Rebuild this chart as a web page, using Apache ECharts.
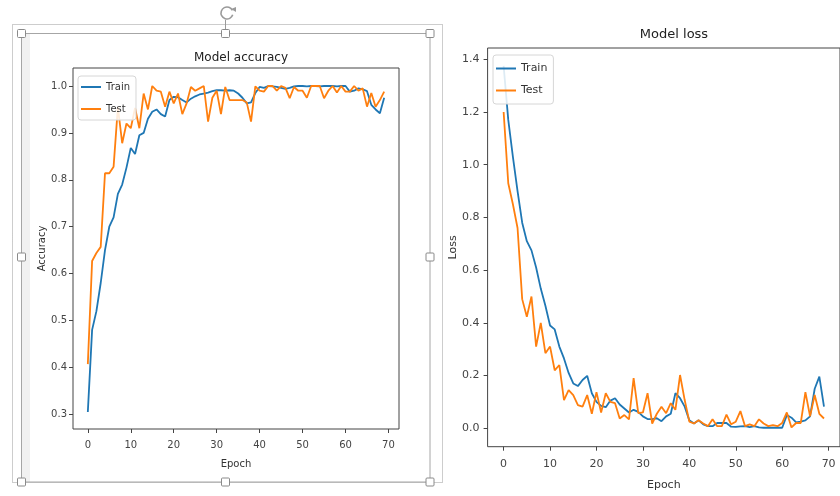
<!DOCTYPE html>
<html>
<head>
<meta charset="utf-8">
<title>Model accuracy / Model loss</title>
<script src="https://cdn.jsdelivr.net/npm/echarts@6/dist/echarts.min.js"></script>
<style>
  html, body { margin: 0; padding: 0; background: #fff; }
  #chart { width: 840px; height: 496px; }
</style>
</head>
<body>
<div id="chart"></div>
<script>
// epochs 0..69
const epochs = Array.from({ length: 70 }, (_, i) => i);

// accuracy
const trainAcc = [
  0.305, 0.48, 0.52, 0.58, 0.65, 0.70, 0.72, 0.77, 0.79, 0.826,
  0.868, 0.855, 0.895, 0.90, 0.93, 0.945, 0.95, 0.94, 0.935, 0.97,
  0.977, 0.976, 0.97, 0.965, 0.973, 0.978, 0.982, 0.984, 0.986, 0.989,
  0.991, 0.991, 0.99, 0.991, 0.99, 0.984, 0.975, 0.963, 0.965, 0.985,
  0.998, 0.996, 1.0, 0.999, 0.998, 0.996, 0.994, 0.996, 0.999, 1.0,
  1.0, 0.999, 1.0, 1.0, 0.999, 1.0, 1.0, 1.0, 0.999, 1.0,
  1.0, 0.988, 0.99, 0.995, 0.993, 0.989, 0.96, 0.95, 0.942, 0.975
];
const testAcc = [
  0.407, 0.627, 0.644, 0.657, 0.814, 0.814, 0.828, 0.955, 0.878, 0.92,
  0.91, 0.953, 0.91, 0.984, 0.95, 1.0, 0.99, 0.988, 0.956, 0.988,
  0.963, 0.984, 0.94, 0.963, 0.998, 0.99, 0.995, 1.0, 0.924, 0.975,
  0.99, 0.94, 0.998, 0.97, 0.97, 0.97, 0.97, 0.965, 0.924, 0.999,
  0.99, 0.988, 1.0, 1.0, 0.99, 1.0, 0.996, 0.974, 0.998, 0.99,
  0.99, 0.975, 1.0, 1.0, 1.0, 0.974, 0.99, 1.0, 0.986, 1.0,
  0.988, 0.988, 1.0, 0.99, 0.995, 0.956, 0.985, 0.956, 0.97, 0.988
];

// loss
const trainLoss = [
  1.375, 1.17, 1.03, 0.9, 0.78, 0.71, 0.675, 0.61, 0.53, 0.465,
  0.39, 0.375, 0.31, 0.265, 0.21, 0.17, 0.16, 0.183, 0.199, 0.133,
  0.1, 0.085, 0.08, 0.105, 0.114, 0.09, 0.075, 0.06, 0.07, 0.062,
  0.045, 0.035, 0.035, 0.038, 0.027, 0.045, 0.055, 0.133, 0.114, 0.082,
  0.03, 0.018, 0.03, 0.015, 0.008, 0.008, 0.02, 0.02, 0.02, 0.006,
  0.005, 0.007, 0.008, 0.004, 0.008, 0.003, 0.002, 0.002, 0.002, 0.002,
  0.002, 0.05, 0.04, 0.022, 0.025, 0.03, 0.045, 0.15, 0.196, 0.082
];
const testLoss = [
  1.2, 0.93, 0.85, 0.76, 0.49, 0.423, 0.5, 0.31, 0.4, 0.285,
  0.31, 0.22, 0.24, 0.107, 0.145, 0.126, 0.088, 0.082, 0.126, 0.055,
  0.137, 0.06, 0.133, 0.1, 0.095, 0.037, 0.05, 0.034, 0.19, 0.057,
  0.06, 0.133, 0.018, 0.055, 0.082, 0.057, 0.095, 0.07, 0.202, 0.107,
  0.025, 0.018, 0.03, 0.018, 0.008, 0.034, 0.008, 0.008, 0.052, 0.015,
  0.025, 0.065, 0.008, 0.015, 0.008, 0.034, 0.018, 0.008, 0.012, 0.008,
  0.02, 0.06, 0.003, 0.02, 0.02, 0.137, 0.045, 0.126, 0.055, 0.037
];

const xTicks = [0, 10, 20, 30, 40, 50, 60, 70];
const accTicks = [0.3, 0.4, 0.5, 0.6, 0.7, 0.8, 0.9, 1.0];
const lossTicks = [0.0, 0.2, 0.4, 0.6, 0.8, 1.0, 1.2, 1.4];

const BLUE = '#1f77b4';
const ORANGE = '#ff7f0e';
const FONT = 'DejaVu Sans';

const pairs = (ys) => epochs.map((e, i) => [e, ys[i]]);

function xAxisCfg(gridIndex, fs, margin, gap) {
  return {
    type: 'value', gridIndex, min: -3.45, max: 72.45,
    name: 'Epoch', nameLocation: 'middle', nameGap: gap,
    nameTextStyle: { fontFamily: FONT, fontSize: fs, color: '#333' },
    axisLine: { show: false, onZero: false },
    axisTick: { show: true, length: 4, customValues: xTicks, lineStyle: { color: '#444' } },
    axisLabel: { customValues: xTicks, fontFamily: FONT, fontSize: fs, color: '#444', margin },
    splitLine: { show: false }
  };
}

function yAxisCfg(gridIndex, name, min, max, ticks, fs, margin, gap) {
  return {
    type: 'value', gridIndex, min, max,
    name, nameLocation: 'middle', nameGap: gap, nameRotate: 90,
    nameTextStyle: { fontFamily: FONT, fontSize: fs, color: '#333' },
    axisLine: { show: false, onZero: false },
    axisTick: { show: true, length: 4, customValues: ticks, lineStyle: { color: '#444' } },
    axisLabel: {
      customValues: ticks, fontFamily: FONT, fontSize: fs, color: '#444', margin,
      formatter: (v) => v.toFixed(1)
    },
    splitLine: { show: false }
  };
}

function line(name, xi, data, color) {
  return {
    name, type: 'line', xAxisIndex: xi, yAxisIndex: xi, data,
    symbol: 'none', animation: false,
    lineStyle: { color, width: 1.8 }, itemStyle: { color }
  };
}

function legendCfg(left, top, fs, gap, pad) {
  return {
    data: ['Train', 'Test'], orient: 'vertical', left, top,
    icon: 'rect', itemWidth: 20, itemHeight: 2, itemGap: gap,
    padding: pad,
    backgroundColor: 'rgba(255,255,255,0.85)',
    borderColor: '#d6d6d6', borderWidth: 1, borderRadius: 3,
    textStyle: { fontFamily: FONT, fontSize: fs, color: '#333' },
    selectedMode: false
  };
}

// selection frame drawn around the left figure
const handle = (x, y) => ({
  type: 'rect', shape: { x: x - 4, y: y - 4, width: 8, height: 8, r: 1 },
  style: { fill: '#fff', stroke: '#8a8a8a', lineWidth: 1 }, z: 20
});

const frame = [
  { type: 'rect', shape: { x: 22, y: 34, width: 8, height: 448 }, style: { fill: '#f1f1f1' }, z: 1 },
  { type: 'rect', shape: { x: 12.5, y: 24.5, width: 430, height: 458 },
    style: { fill: null, stroke: '#9a9a9a', lineWidth: 1, lineDash: [1, 1] }, z: 18 },
  { type: 'rect', shape: { x: 21.5, y: 33.5, width: 408.5, height: 448.5 },
    style: { fill: null, stroke: '#a6a6a6', lineWidth: 1 }, z: 19 },
  { type: 'line', shape: { x1: 225.5, y1: 20, x2: 225.5, y2: 33 }, style: { stroke: '#9a9a9a', lineWidth: 1 }, z: 19 },
  { type: 'arc', shape: { cx: 227, cy: 13, r: 6, startAngle: Math.PI * 0.1, endAngle: Math.PI * 1.85 },
    style: { fill: null, stroke: '#9a9a9a', lineWidth: 1.6 }, z: 20 },
  { type: 'polygon', shape: { points: [[231, 9], [236, 12], [236, 7]] }, style: { fill: '#9a9a9a' }, z: 20 },
  handle(21.5, 33.5), handle(225.5, 33.5), handle(430, 33.5),
  handle(21.5, 257), handle(430, 257),
  handle(21.5, 482), handle(225.5, 482), handle(430, 482)
];

const chart = echarts.init(document.getElementById('chart'), null, { renderer: 'canvas' });
chart.setOption({
  backgroundColor: '#fff',
  animation: false,
  title: [
    { text: 'Model accuracy', left: 236, top: 47, textAlign: 'center',
      textStyle: { fontFamily: FONT, fontSize: 12, fontWeight: 'normal', color: '#222' } },
    { text: 'Model loss', left: 669, top: 23, textAlign: 'center',
      textStyle: { fontFamily: FONT, fontSize: 13, fontWeight: 'normal', color: '#222' } }
  ],
  grid: [
    { left: 73, top: 68, width: 326, height: 361, show: true, borderColor: '#444', borderWidth: 1, backgroundColor: '#fff' },
    { left: 487.6, top: 48, width: 359.7, height: 398.7, show: true, borderColor: '#444', borderWidth: 1, backgroundColor: '#fff' }
  ],
  xAxis: [xAxisCfg(0, 10, 11, 30), xAxisCfg(1, 11, 12, 33)],
  yAxis: [
    yAxisCfg(0, 'Accuracy', 0.2687, 1.0384, accTicks, 10, 6, 23),
    yAxisCfg(1, 'Loss', -0.07, 1.443, lossTicks, 11, 8, 24)
  ],
  legend: [
    legendCfg(78, 76, 10, 12, [6, 6, 6, 3]),
    legendCfg(493, 55, 11, 11, [8, 6, 8, 3])
  ],
  series: [
    line('Train', 0, pairs(trainAcc), BLUE),
    line('Test', 0, pairs(testAcc), ORANGE),
    line('Train', 1, pairs(trainLoss), BLUE),
    line('Test', 1, pairs(testLoss), ORANGE)
  ],
  graphic: frame
});
</script>
</body>
</html>
